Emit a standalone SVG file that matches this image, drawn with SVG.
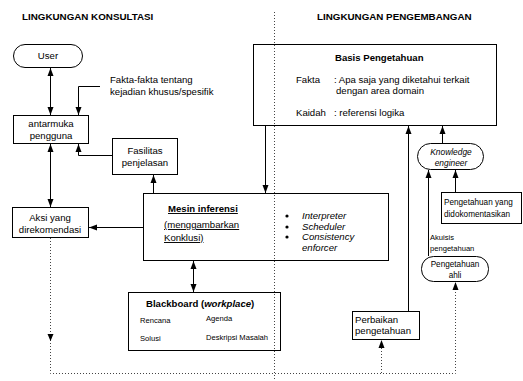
<svg xmlns="http://www.w3.org/2000/svg" width="523" height="381" viewBox="0 0 523 381">
  <defs>
    <marker id="ah" viewBox="0 0 8 8" refX="8" refY="4" markerWidth="8" markerHeight="8" markerUnits="userSpaceOnUse" orient="auto-start-reverse">
      <path d="M0,1 L8,4 L0,7 Z" fill="#000"/>
    </marker>
    <style>
      .t { font-family: "Liberation Sans", Arial, sans-serif; font-size: 9.6px; fill: #000; }
      .s { font-size: 7.6px; }
      .k { font-size: 8.4px; }
      .d { font-size: 8.2px; }
      .b { font-weight: bold; }
      .h { font-size: 9.8px; }
      .i { font-style: italic; }
      .u { text-decoration: underline; }
      .mid { text-anchor: middle; }
      .box { fill: none; stroke: #000; stroke-width: 1; }
      .ln { fill: none; stroke: #000; stroke-width: 1; }
      .dot { fill: none; stroke: #444; stroke-width: 1; stroke-dasharray: 1 2; }
    </style>
  </defs>
  <rect width="523" height="381" fill="#fff"/>

  <!-- section headings -->
  <text class="t b h" x="22" y="20">LINGKUNGAN KONSULTASI</text>
  <text class="t b h" x="317" y="20">LINGKUNGAN PENGEMBANGAN</text>

  <g id="user">
    <rect class="box" x="13.5" y="44.5" width="69" height="23" rx="11.5"/>
    <text class="t mid" x="48" y="59">User</text>
  </g>

  <g id="antarmuka">
    <rect class="box" x="13.5" y="115.5" width="75" height="28"/>
    <text class="t mid" x="51" y="127">antarmuka</text>
    <text class="t mid" x="51" y="139">pengguna</text>
  </g>

  <g id="fakta-label">
    <text class="t" x="110" y="83">Fakta-fakta tentang</text>
    <text class="t" x="110" y="95">kejadian khusus/spesifik</text>
  </g>

  <g id="fasilitas">
    <rect class="box" x="112.5" y="138.5" width="65" height="36"/>
    <text class="t mid" x="145" y="154">Fasilitas</text>
    <text class="t mid" x="145" y="166">penjelasan</text>
  </g>

  <g id="aksi">
    <rect class="box" x="12.5" y="207.5" width="76" height="30"/>
    <text class="t mid" x="50" y="221">Aksi yang</text>
    <text class="t mid" x="50" y="233">direkomendasi</text>
  </g>

  <g id="mesin">
    <rect class="box" x="143.5" y="193.5" width="245" height="67"/>
    <text class="t b u" x="168" y="212">Mesin inferensi</text>
    <text class="t u" x="164" y="228">(menggambarkan</text>
    <text class="t u" x="164" y="241">Konklusi)</text>
    <circle cx="287" cy="216" r="1.6"/>
    <circle cx="287" cy="227" r="1.6"/>
    <circle cx="287" cy="237" r="1.6"/>
    <text class="t i" x="302" y="219">Interpreter</text>
    <text class="t i" x="302" y="230">Scheduler</text>
    <text class="t i" x="302" y="240">Consistency</text>
    <text class="t i" x="302" y="251">enforcer</text>
  </g>

  <g id="blackboard">
    <rect class="box" x="128.5" y="292.5" width="152" height="58"/>
    <text class="t b" x="146" y="307">Blackboard (<tspan class="i">workplace</tspan>)</text>
    <text class="t s" x="140" y="323">Rencana</text>
    <text class="t s" x="206" y="321">Agenda</text>
    <text class="t s" x="140" y="341">Solusi</text>
    <text class="t s" x="206" y="340">Deskripsi Masalah</text>
  </g>

  <g id="basis">
    <rect class="box" x="253.5" y="44.5" width="243" height="81"/>
    <text class="t b" x="335" y="61">Basis Pengetahuan</text>
    <text class="t" x="296" y="83">Fakta</text>
    <text class="t" x="334" y="83">: Apa saja yang diketahui terkait</text>
    <text class="t" x="336" y="94">dengan area domain</text>
    <text class="t" x="296" y="116">Kaidah</text>
    <text class="t" x="334" y="116">: referensi logika</text>
  </g>

  <g id="knowledge-engineer">
    <rect class="box" x="417.5" y="143.5" width="66" height="26" rx="13"/>
    <text class="t i k mid" x="451" y="155">Knowledge</text>
    <text class="t i k mid" x="451" y="166">engineer</text>
  </g>

  <g id="dokumentasi">
    <rect class="box" x="441.5" y="192.5" width="80" height="31"/>
    <text class="t d" x="444" y="205">Pengetahuan yang</text>
    <text class="t d" x="444" y="217">didokomentasikan</text>
  </g>

  <g id="ahli">
    <rect class="box" x="421.5" y="256.5" width="67" height="25" rx="12"/>
    <text class="t d mid" x="455" y="267">Pengetahuan</text>
    <text class="t d mid" x="455" y="278">ahli</text>
  </g>

  <g id="perbaikan">
    <rect class="box" x="352.5" y="311.5" width="67" height="28"/>
    <text class="t" x="355" y="323">Perbaikan</text>
    <text class="t" x="355" y="334">pengetahuan</text>
  </g>

  <g id="connectors">
    <line class="ln" x1="50.5" y1="68" x2="50.5" y2="115" marker-start="url(#ah)" marker-end="url(#ah)"/>
    <polyline class="ln" points="100,86.5 78.5,86.5 78.5,115" marker-end="url(#ah)"/>
    <polyline class="ln" points="112,155.5 78.5,155.5 78.5,144" marker-end="url(#ah)"/>
    <line class="ln" x1="50.5" y1="144" x2="50.5" y2="207" marker-start="url(#ah)" marker-end="url(#ah)"/>
    <line class="ln" x1="153.5" y1="193" x2="153.5" y2="175" marker-end="url(#ah)"/>
    <line class="ln" x1="143" y1="227.5" x2="89" y2="227.5" marker-end="url(#ah)"/>
    <line class="ln" x1="265.5" y1="126" x2="265.5" y2="193" marker-end="url(#ah)"/>
    <line class="ln" x1="193.5" y1="261" x2="193.5" y2="292" marker-start="url(#ah)" marker-end="url(#ah)"/>
    <line class="ln" x1="408.5" y1="311" x2="408.5" y2="126" marker-end="url(#ah)"/>
    <line class="ln" x1="442.5" y1="143" x2="442.5" y2="126" marker-end="url(#ah)"/>
    <line class="ln" x1="455.5" y1="192" x2="455.5" y2="170" marker-end="url(#ah)"/>
    <line class="ln" x1="428.5" y1="256" x2="428.5" y2="170" marker-end="url(#ah)"/>
    <text class="t s" x="430" y="240">Akuisis</text>
    <text class="t s" x="430" y="251">pengetahuan</text>

    <polyline class="dot" points="50.5,238 50.5,373.5 455.5,373.5 455.5,282"/>
    <path d="M455.5,282 L458.5,290 L452.5,290 Z" fill="#000"/>
    <line class="dot" x1="381.5" y1="373" x2="381.5" y2="340"/>
    <path d="M381.5,340 L384.5,348 L378.5,348 Z" fill="#000"/>
    <path d="M50.5,341 L53.5,334 L47.5,334 Z" fill="#000"/>
  </g>

  <!-- boundary between the two environments -->
  <line class="dot" x1="274.5" y1="12" x2="274.5" y2="381"/>
</svg>
